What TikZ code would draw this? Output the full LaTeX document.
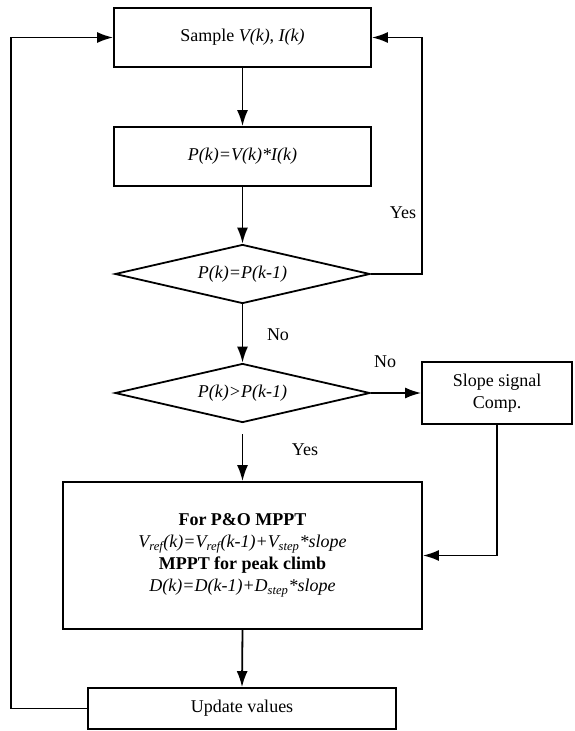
\documentclass[tikz,border=0pt]{standalone}
\usepackage{fontspec}
\setmainfont{Liberation Serif}
\usetikzlibrary{shapes.geometric,arrows.meta}
\begin{document}
\begin{tikzpicture}[x=1pt,y=-1pt]

  \tikzstyle{block}=[draw,line width=1.8pt,rectangle,inner sep=0pt,align=center,
                     font=\fontsize{18}{22}\selectfont]
  \tikzstyle{decision}=[draw,line width=1.8pt,diamond,aspect=4.4,inner sep=0pt,
                        minimum width=255pt,minimum height=59pt,
                        font=\fontsize{18}{22}\selectfont\itshape]
  \tikzstyle{arrow}=[line width=1.8pt,-{Latex[length=16pt,width=11pt]}]
  \tikzstyle{answer}=[font=\fontsize{18}{22}\selectfont]

  \useasboundingbox (0,0) rectangle (574,731);

  \node[block,minimum width=257pt,minimum height=59pt] (sample) at (242.5,37.5)
    {Sample \textit{V(k)}, \textit{I(k)}};
  \node[block,minimum width=257pt,minimum height=59pt] (power) at (242.5,156.5)
    {\textit{P(k)=V(k)*I(k)}};
  \node[decision] (equal) at (242.5,274) {P(k)=P(k-1)};
  \node[decision] (greater) at (242.5,393) {P(k)>P(k-1)};
  \node[block,minimum width=150pt,minimum height=62pt] (slope) at (497,393)
    {Slope signal\\Comp.};
  \node[block,minimum width=359pt,minimum height=147pt] (mppt) at (242.5,555.5)
    {\textbf{For P\&O MPPT}\\
     \textit{V\textsubscript{ref}(k)=V\textsubscript{ref}(k-1)+V\textsubscript{step}*slope}\\
     \textbf{MPPT for peak climb}\\
     \textit{D(k)=D(k-1)+D\textsubscript{step}*slope}};
  \node[block,minimum width=308pt,minimum height=41pt] (update) at (242,708.5)
    {Update values};

  \node[answer] (yes-1) at (403,213) {Yes};
  \node[answer] (no-1) at (278,335) {No};
  \node[answer] (no-2) at (385,362) {No};
  \node[answer] (yes-2) at (305,450) {Yes};

  \coordinate (right-x) at (422,0);
  \coordinate (left-x) at (11,0);

  \foreach \from/\to in {sample/power,power/equal,equal/greater,mppt/update}
    \draw[arrow] (\from.south) -- (\to.north);

  \draw[arrow,shorten <=11pt] (greater.south) -- (mppt.north);
  \draw[arrow] (greater.east) -- (slope.west);
  \draw[arrow] (slope.south) |- (mppt.east);
  \draw[arrow] (equal.east) -- (equal.east -| right-x) |- (sample.east);
  \draw[arrow] (update.west) -- (update.west -| left-x) |- (sample.west);
\end{tikzpicture}
\end{document}
